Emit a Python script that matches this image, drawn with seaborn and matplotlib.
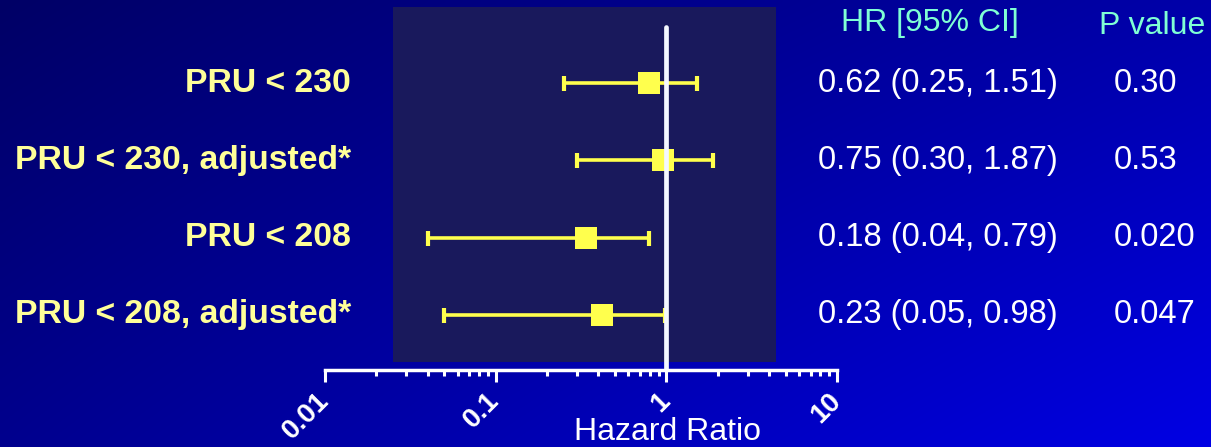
import numpy as np
import pandas as pd
import matplotlib
matplotlib.use("Agg")
import matplotlib.pyplot as plt
import matplotlib.transforms as mtransforms
from matplotlib.patches import Rectangle
from matplotlib.ticker import LogLocator, FixedLocator, NullFormatter
import seaborn as sns

# ---------------- data ----------------
categories = ["PRU < 230", "PRU < 230, adjusted*", "PRU < 208", "PRU < 208, adjusted*"]
hr_marker = [0.79, 0.96, 0.34, 0.42]          # square positions as drawn
ci_low = [0.25, 0.30, 0.04, 0.05]
ci_high = [1.51, 1.87, 0.79, 0.98]
hr_text = ["0.62 (0.25, 1.51)", "0.75 (0.30, 1.87)", "0.18 (0.04, 0.79)", "0.23 (0.05, 0.98)"]
p_text = ["0.30", "0.53", "0.020", "0.047"]
tick_values = [0.01, 0.1, 1, 10]
tick_labels = ["0.01", "0.1", "1", "10"]

sns.set_style("white")
plt.rcParams["font.family"] = ["Liberation Sans", "DejaVu Sans"]

W, H = 1211, 447
fig = plt.figure(figsize=(W / 100, H / 100), dpi=100)

# background gradient
bg = fig.add_axes([0, 0, 1, 1], zorder=-10)
xx, yy = np.meshgrid(np.linspace(0, 1, 300), np.linspace(0, 1, 120))
blue = 102 + 68 * xx + 40 * yy + 18 * xx * yy
img = np.zeros(xx.shape + (3,))
img[..., 2] = np.clip(blue, 0, 255) / 255.0
bg.imshow(img, aspect="auto", extent=[0, 1, 1, 0], interpolation="bilinear")
bg.set_axis_off()

# main axes: x from 325px to 837px, y from 7px (top) to 370px (spine)
ax_left = 325 / W
ax_w = (837 - 325) / W
ax_bottom = (H - 370) / H
ax_top = 1 - 7 / H
ax = fig.add_axes([ax_left, ax_bottom, ax_w, ax_top - ax_bottom])
ax.patch.set_alpha(0)

df = pd.DataFrame({"cat": categories, "hr": hr_marker, "lo": ci_low,
                   "hi": ci_high, "row": np.arange(len(categories))})

yellow = "#FFFF4D"
# dark panel
ax.add_patch(Rectangle(((393 - 325) / 512, (370 - 362) / 363),
                       (776 - 393) / 512, 1 - (370 - 362) / 363,
                       transform=ax.transAxes, facecolor="#19195C",
                       edgecolor="none", zorder=0))

ax.errorbar(df["hr"], df["row"],
            xerr=[df["hr"] - df["lo"], df["hi"] - df["hr"]],
            fmt="none", ecolor=yellow, elinewidth=2.6, capsize=5.4,
            capthick=3.0, zorder=3)
sns.scatterplot(data=df, x="hr", y="row", marker="s", s=270, color=yellow,
                linewidth=0, ax=ax, zorder=4, legend=False)

ax.axvline(1, ymin=0, ymax=(370 - 27) / 363, color="#F4F8FF", lw=3.4, zorder=5)

ax.set_xscale("log")
ax.set_xlim(0.01, 10)
ax.set_ylim(3 + 55 / 77.3, -76 / 77.3)
ax.set_xlabel("")
ax.set_ylabel("")
ax.set_yticks([])

for s in ["top", "left", "right"]:
    ax.spines[s].set_visible(False)
ax.spines["bottom"].set_color("white")
ax.spines["bottom"].set_linewidth(2.5)
ax.spines["bottom"].set_zorder(6)

ax.xaxis.set_major_locator(FixedLocator(tick_values))
ax.xaxis.set_minor_locator(LogLocator(base=10, subs=np.arange(2, 10)))
ax.xaxis.set_minor_formatter(NullFormatter())
ax.set_xticklabels(tick_labels)
ax.tick_params(axis="x", which="both", bottom=True)
ax.tick_params(axis="x", which="major", direction="out", length=8.5, width=2.2,
               color="white", labelcolor="white", labelsize=20, pad=11)
ax.tick_params(axis="x", which="minor", direction="out", length=4.0, width=2.2,
               color="white")
for lbl in ax.get_xticklabels():
    lbl.set_rotation(45)
    lbl.set_ha("right")
    lbl.set_va("center")
    lbl.set_rotation_mode("anchor")
    lbl.set_fontweight("bold")

# text columns
blend = mtransforms.blended_transform_factory(fig.transFigure, ax.transData)
for i, row in df.iterrows():
    fig.text(351 / W, row["row"], row["cat"], transform=blend, ha="right",
             va="center", color="#FFFF99", fontsize=24.3, fontweight="bold")
    fig.text(818 / W, row["row"], hr_text[i], transform=blend, ha="left",
             va="center", color="white", fontsize=23.5)
    fig.text(1114 / W, row["row"], p_text[i], transform=blend, ha="left",
             va="center", color="white", fontsize=23.5)

fig.text(930 / W, 1 - 23 / H, "HR [95% CI]", ha="center", va="center",
         color="#7FFFD4", fontsize=23)
fig.text(1152 / W, 1 - 26 / H, "P value", ha="center", va="center",
         color="#7FFFD4", fontsize=23)
fig.text(668 / W, 1 - 432 / H, "Hazard Ratio", ha="center", va="center",
         color="white", fontsize=23)

fig.savefig("out.png", dpi=100)
